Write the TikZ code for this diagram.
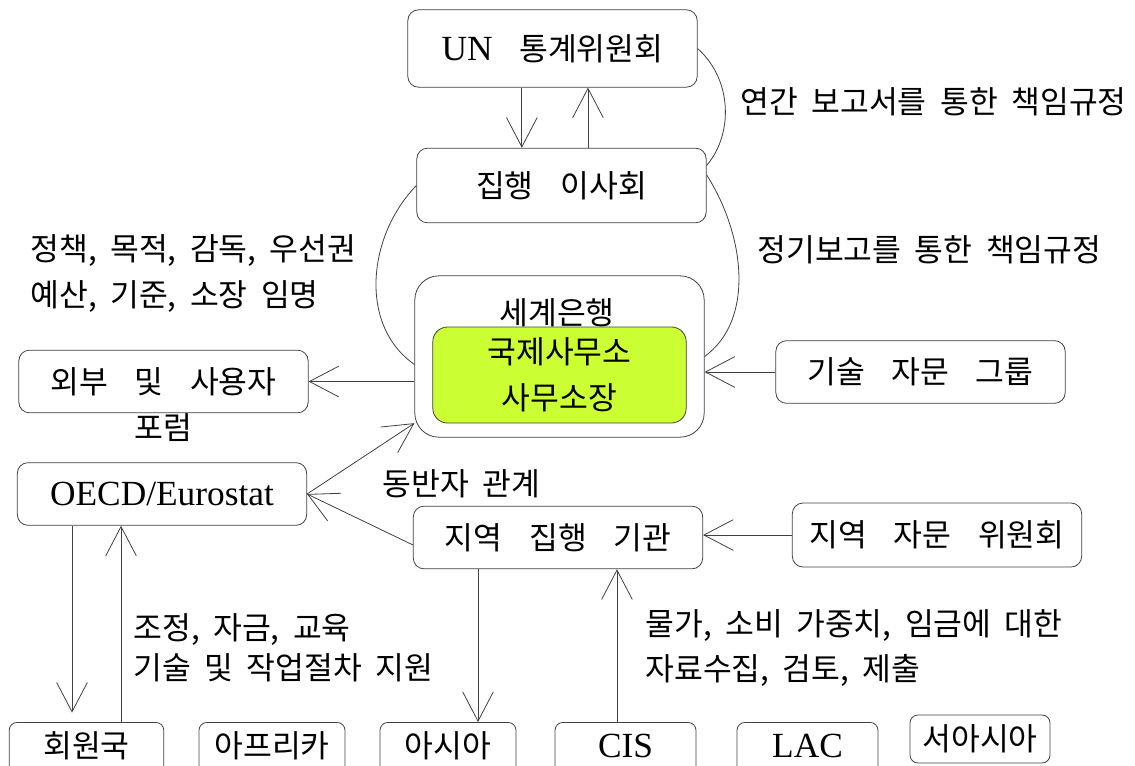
\documentclass[tikz,border=0pt]{standalone}
\usepackage{fontspec}
\usetikzlibrary{arrows.meta}
\newfontfamily\kr{Noto Sans CJK KR}
\newfontfamily\latin{Liberation Serif}
\newcommand{\kfont}[1][28pt]{\kr\fontsize{23.5pt}{#1}\selectfont\spaceskip=0.43em\relax}
\newcommand{\bfont}{\kr\fontsize{23.5pt}{28pt}\selectfont\spaceskip=0.85em\relax}
\newcommand{\lfont}{\latin\fontsize{26.5pt}{30pt}\selectfont}
\definecolor{officegreen}{RGB}{204,255,51}

\begin{document}
\begin{tikzpicture}[x=0.75pt,y=-0.75pt,line width=0.6pt,
  box/.style={draw=black!75, rounded corners=8pt, minimum width=217pt,
    minimum height=47pt, inner sep=0pt, font=\bfont},
  region/.style={draw=black!75, rounded corners=6pt, anchor=north,
    inner sep=0pt, text height=26pt, text depth=40pt, font=\bfont},
  note/.style={anchor=west, inner sep=0pt, align=left, font=\kfont},
  arr/.style={draw=black!75, -{Straight Barb[length=22pt, width=23pt]}},
  link/.style={draw=black!75}]

\clip (0,0) rectangle (1135,765);

% top of the chain
\node[box, minimum height=58pt] (un) at (552.5,48.5) {{\lfont UN} 통계위원회};
\node[box, minimum height=56pt] (board) at (561.5,185.5) {집행 이사회};

% world bank with its office
\node[box, minimum height=121pt, rounded corners=18pt] (wb) at (559.5,356.5) {};
\node[font=\kfont, inner sep=0pt] (wbname) at (557,313) {세계은행};
\node[box, fill=officegreen, minimum width=190pt, minimum height=72pt,
  rounded corners=11pt, align=center, font={\kfont[34.5pt]}] (office) at (559.5,375) {국제사무소\\사무소장};

\node[box, label={[font=\kfont, inner sep=0pt]below:포럼}] (forum) at (163.5,381.5) {외부 및 사용자};
\node[box] (tech) at (920.5,372) {기술 자문 그룹};
\node[box, font=\lfont] (oecd) at (162,494) {OECD/Eurostat};
\node[box] (rexec) at (558,537.5) {지역 집행 기관};
\node[box, minimum height=48pt] (radv) at (937,535) {지역 자문 위원회};

% regions along the bottom
\node[region, minimum width=116pt] (member) at (86.5,722) {회원국};
\node[region, minimum width=109.5pt] (africa) at (272,722) {아프리카};
\node[region, minimum width=102pt] (asia) at (448,722) {아시아};
\node[region, minimum width=105.75pt, font=\lfont] (cis) at (625.5,722) {CIS};
\node[region, minimum width=105.75pt, font=\lfont] (lac) at (807.5,722) {LAC};
\node[box, rounded corners=6pt, minimum width=105pt, minimum height=36pt] (wasia) at (980,739) {서아시아};

% notes
\node[note] (annual) at (740,102) {연간 보고서를 통한 책임규정};
\node[note] (regular) at (757,250) {정기보고를 통한 책임규정};
\node[note, font={\kfont[35pt]}] (policy) at (30,273.5) {정책, 목적, 감독, 우선권\\예산, 기준, 소장 임명};
\node[note] (partner) at (382,484) {동반자 관계};
\node[note, font={\kfont[30pt]}] (support) at (133,648) {조정, 자금, 교육\\기술 및 작업절차 지원};
\node[note, font={\kfont[33.75pt]}] (collect) at (645,648.5) {물가, 소비 가중치, 임금에 대한\\자료수집, 검토, 제출};

% connectors
\draw[arr] ([xshift=-23pt]un.south) -- ([xshift=-23pt]un.south |- board.north);
\draw[arr] ([xshift=26.6pt]un.south |- board.north) -- ([xshift=26.6pt]un.south);
\draw[link] (un.east) .. controls (733,80) and (733,135) .. ([yshift=15pt]board.east);
\draw[link] ([yshift=8pt]board.east) .. controls (745,235) and (755,320) .. (wb.east);
\draw[link] (board.west) .. controls (368,235) and (358,325) .. ([yshift=-6pt]wb.west);
\draw[arr] (forum.east -| wb.west) -- (forum.east);
\draw[arr] (tech.west) -- (tech.west -| wb.east);
\draw[arr] (oecd.east) -- ([yshift=-50pt]wb.west);
\draw[arr] ([yshift=-5.6pt]rexec.west) -- (oecd.east);
\draw[arr] (radv.west) -- (radv.west -| rexec.east);
\draw[arr, shorten >=7pt] ([xshift=-67.5pt]oecd.south) -- ([xshift=-67.5pt]oecd.south |- member.north);
\draw[arr] ([xshift=25.9pt]member.north) -- ([xshift=25.9pt]member.north |- oecd.south);
\draw[arr] ([xshift=-60pt]rexec.south) -- ([xshift=-60pt]rexec.south |- asia.north);
\draw[arr] ([xshift=-6.4pt]cis.north) -- ([xshift=-6.4pt]cis.north |- rexec.south);

\end{tikzpicture}
\end{document}
